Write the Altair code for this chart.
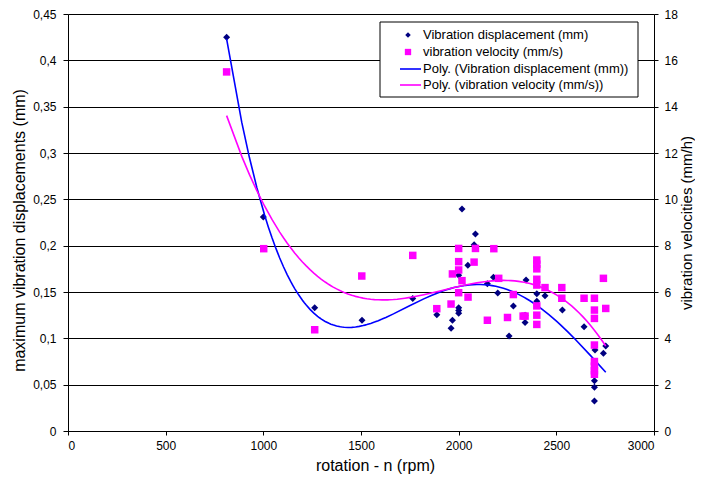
import altair as alt
import pandas as pd

# ---- data ----
disp_rpm = [812, 1000, 1263, 1505, 1765, 1888, 1961, 1968, 2000, 2000, 2000, 2000,
            2017, 2047, 2079, 2086, 2147, 2178, 2200, 2258, 2280, 2340, 2340, 2345,
            2400, 2400, 2442, 2531, 2642, 2695, 2695, 2695, 2698, 2741, 2753]
disp_mm = [0.425, 0.231, 0.133, 0.1195, 0.143, 0.1255, 0.111, 0.1195, 0.133, 0.130, 0.127, 0.168,
           0.2396, 0.179, 0.201, 0.2126, 0.159, 0.166, 0.149, 0.1025, 0.135, 0.117, 0.125, 0.163,
           0.148, 0.14, 0.146, 0.1306, 0.1125, 0.0543, 0.0472, 0.0324, 0.0874, 0.0838, 0.0917]

vel_rpm = [812, 1002, 1263, 1504, 1765, 1888, 1961, 1968, 2000, 2000, 2000, 2000,
           2017, 2048, 2079, 2086, 2147, 2180, 2205, 2280, 2250, 2330, 2340,
           2400, 2400, 2400, 2400, 2400, 2400, 2400, 2400, 2442, 2528, 2528, 2642,
           2695, 2695, 2695, 2695, 2695, 2695, 2695, 2695, 2741, 2753]
vel_mms = [15.5, 7.87, 4.37, 6.69, 7.58, 5.28, 5.48, 6.78, 7.88, 7.31, 6.95, 5.97,
           6.49, 5.78, 7.29, 7.88, 4.78, 7.87, 6.59, 5.89, 4.9, 4.96, 4.96,
           7.38, 7.2, 7.0, 6.55, 6.3, 5.4, 5.0, 4.6, 6.19, 6.19, 5.73, 5.73,
           5.73, 5.22, 4.86, 3.71, 3.0, 2.8, 2.6, 2.45, 6.59, 5.29]

x_ticks = [0, 500, 1000, 1500, 2000, 2500, 3000]
left_ticks = [0, 0.05, 0.1, 0.15, 0.2, 0.25, 0.3, 0.35, 0.4, 0.45]
right_ticks = [0, 2, 4, 6, 8, 10, 12, 14, 16, 18]

legend_labels = ["Vibration displacement (mm)", "vibration velocity (mm/s)",
                 "Poly. (Vibration displacement (mm))", "Poly. (vibration velocity (mm/s))"]

NAVY = "#000080"
MAGENTA = "#FF00FF"
BLUE = "#0000FF"
FONT = "Liberation Sans"

disp_df = pd.DataFrame({"rpm": disp_rpm, "value": disp_mm})
vel_df = pd.DataFrame({"rpm": vel_rpm, "value": vel_mms})

x_enc = alt.X("rpm:Q", scale=alt.Scale(domain=[0, 3000], nice=False, zero=False),
              axis=alt.Axis(values=x_ticks, title="rotation - n (rpm)", grid=False,
                            tickSize=4, labelPadding=5, titlePadding=6, titleFontSize=16,
                            titleX=307, format="d"))

left_axis = alt.Axis(values=left_ticks, title="maximum vibration displacements (mm)",
                     grid=True, gridColor="#000000", gridWidth=1, tickSize=5,
                     labelPadding=7, titlePadding=5, titleFontSize=16, titleY=216,
                     labelExpr="replace(format(datum.value, '.2~f'), '.', ',')")
right_axis = alt.Axis(values=right_ticks, title="vibration velocities (mm/h)",
                      grid=False, tickSize=4, labelPadding=6, titlePadding=2,
                      titleFontSize=15, titleAngle=270, titleBaseline="top",
                      orient="right", format="d")

left_scale = alt.Scale(domain=[0, 0.45], nice=False)
right_scale = alt.Scale(domain=[0, 18], nice=False)

pts_d = alt.Chart(disp_df).mark_point(shape="diamond", filled=True, size=49,
                                      color=NAVY, opacity=1).encode(
    x=x_enc, y=alt.Y("value:Q", scale=left_scale, axis=left_axis))
line_d = alt.Chart(disp_df).transform_regression(
    "rpm", "value", method="poly", order=4).mark_line(color=BLUE, strokeWidth=1.6).encode(
    x=x_enc, y=alt.Y("value:Q", scale=left_scale, axis=left_axis))
left_layer = alt.layer(pts_d, line_d)

pts_v = alt.Chart(vel_df).mark_point(shape="square", filled=True, size=56,
                                     color=MAGENTA, opacity=1).encode(
    x=x_enc, y=alt.Y("value:Q", scale=right_scale, axis=right_axis))
line_v = alt.Chart(vel_df).transform_regression(
    "rpm", "value", method="poly", order=3).mark_line(color=MAGENTA, strokeWidth=1.6).encode(
    x=x_enc, y=alt.Y("value:Q", scale=right_scale, axis=right_axis))
right_layer = alt.layer(pts_v, line_v)

# ---- legend box (drawn manually, top right inside the plot) ----
one = pd.DataFrame({"k": [0]})
box = alt.Chart(one).mark_rect(fill="white", stroke="black", strokeWidth=1).encode(
    x=alt.value(312), x2=alt.value(570), y=alt.value(8), y2=alt.value(83))
legend_layers = [box]
rows_y = [21, 38, 55, 71]
legend_layers.append(alt.Chart(one).mark_point(shape="diamond", filled=True, size=30,
                                               color=NAVY, opacity=1).encode(
    x=alt.value(340), y=alt.value(rows_y[0])))
legend_layers.append(alt.Chart(one).mark_point(shape="square", filled=True, size=40,
                                               color=MAGENTA, opacity=1).encode(
    x=alt.value(340), y=alt.value(rows_y[1])))
legend_layers.append(alt.Chart(one).mark_rule(color=BLUE, strokeWidth=1.6).encode(
    x=alt.value(332), x2=alt.value(353), y=alt.value(rows_y[2])))
legend_layers.append(alt.Chart(one).mark_rule(color=MAGENTA, strokeWidth=1.6).encode(
    x=alt.value(332), x2=alt.value(353), y=alt.value(rows_y[3])))
for lab, yy in zip(legend_labels, rows_y):
    legend_layers.append(alt.Chart(one).mark_text(
        text=lab, align="left", baseline="middle", font=FONT, fontSize=13, color="black").encode(
        x=alt.value(355), y=alt.value(yy)))

chart = alt.layer(left_layer, right_layer, *legend_layers).resolve_scale(
    y="independent").properties(
    width=586, height=417,
    background="white",
    autosize=alt.AutoSizeParams(type="none"),
    padding={"left": 60, "top": 6, "right": 41, "bottom": 44},
).configure_view(stroke=None).configure_axis(
    domainColor="black", tickColor="black", labelColor="black", titleColor="black",
    labelFont=FONT, titleFont=FONT, labelFontSize=12, titleFontSize=14,
    titleFontWeight="normal", domainWidth=1, tickWidth=1
)

chart.save("out.html", embed_options={"renderer": "svg", "actions": False})
